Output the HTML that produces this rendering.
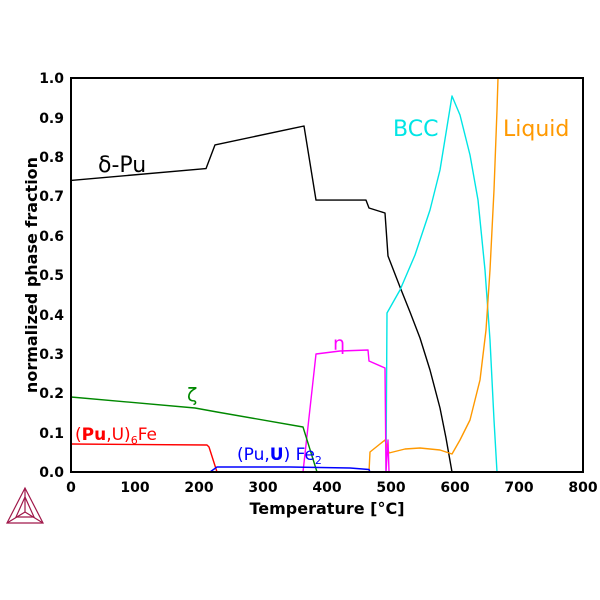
<!DOCTYPE html>
<html><head><style>body{margin:0;background:#fff}svg{display:block}</style></head><body>
<svg width="600" height="600" xmlns="http://www.w3.org/2000/svg" font-family="DejaVu Sans, Liberation Sans, sans-serif">
<rect width="600" height="600" fill="#fff"/>
<g fill="none" stroke-width="1.4" stroke-linejoin="round">
<polyline stroke="#000" points="71,180.4 206,168.6 215,144.9 304,126 316,200.1 366,200.1 369,208 385,213 388,256 400,287 410,312 420,338 430,370 440,408 446,438 452,472"/>
<polyline stroke="#00e5e5" points="386,472 387,313 400,290 415,255 430,210 440,170 452,96 460,115 470,155 478,200 485,270 490,340 494,420 497,472"/>
<polyline stroke="#ff9900" points="369,472 370,452 385,440 389,453 405,449 420,448 440,450 452,454 460,440 470,420 480,380 486,330 490,270 494,190 497,110 498,78"/>
<polyline stroke="#ff00ff" points="303,472 316,354 340,351 368,350 369,361 385,368 386,472 388,440 389,472"/>
<polyline stroke="#008800" points="71,397 195,408 217,412 303,427 317,472"/>
<polyline stroke="#ff0000" points="71,444 207,445 209,447 217,472"/>
<polyline stroke="#0000ff" points="210,472 217,467 290,467 350,468 369,469.5 370,472"/>
</g>
<rect x="71" y="78" width="512" height="394" fill="none" stroke="#000" stroke-width="2"/>
<g font-size="14" font-weight="bold" text-anchor="end">
<text x="64" y="477">0.0</text><text x="64" y="438">0.1</text><text x="64" y="398">0.2</text><text x="64" y="359">0.3</text><text x="64" y="320">0.4</text><text x="64" y="280">0.5</text><text x="64" y="241">0.6</text><text x="64" y="201">0.7</text><text x="64" y="162">0.8</text><text x="64" y="123">0.9</text><text x="64" y="83">1.0</text>
</g>
<g font-size="14" font-weight="bold" text-anchor="middle">
<text x="71" y="492">0</text><text x="135" y="492">100</text><text x="199" y="492">200</text><text x="263" y="492">300</text><text x="327" y="492">400</text><text x="391" y="492">500</text><text x="455" y="492">600</text><text x="519" y="492">700</text><text x="583" y="492">800</text>
</g>
<text x="327" y="514" font-size="16" font-weight="bold" text-anchor="middle">Temperature [°C]</text>
<text transform="translate(37,275) rotate(-90)" font-size="16" font-weight="bold" text-anchor="middle">normalized phase fraction</text>
<text x="98" y="172" font-size="22">δ-Pu</text>
<text x="393" y="136" font-size="22" fill="#00e5e5">BCC</text>
<text x="503" y="136" font-size="22" fill="#ff9900">Liquid</text>
<text x="333" y="350" font-size="19" fill="#ff00ff">η</text>
<text x="187" y="401" font-size="19" fill="#008800">ζ</text>
<text x="75" y="440" font-size="17" fill="#ff0000">(<tspan font-weight="bold">Pu</tspan>,U)<tspan font-size="11" dy="4">6</tspan><tspan dy="-4">Fe</tspan></text>
<text x="237" y="460" font-size="17" fill="#0000ff">(Pu,<tspan font-weight="bold">U</tspan>) Fe<tspan font-size="11" dy="4">2</tspan></text>
<g fill="none" stroke="#a0184a" stroke-width="1.2">
<polygon points="25,488 7,523 43,523"/><polyline points="25,488 25,512 7,523"/><polyline points="25,512 43,523"/><polygon points="25,497 16,517 34,517"/>
</g>
</svg>
</body></html>
